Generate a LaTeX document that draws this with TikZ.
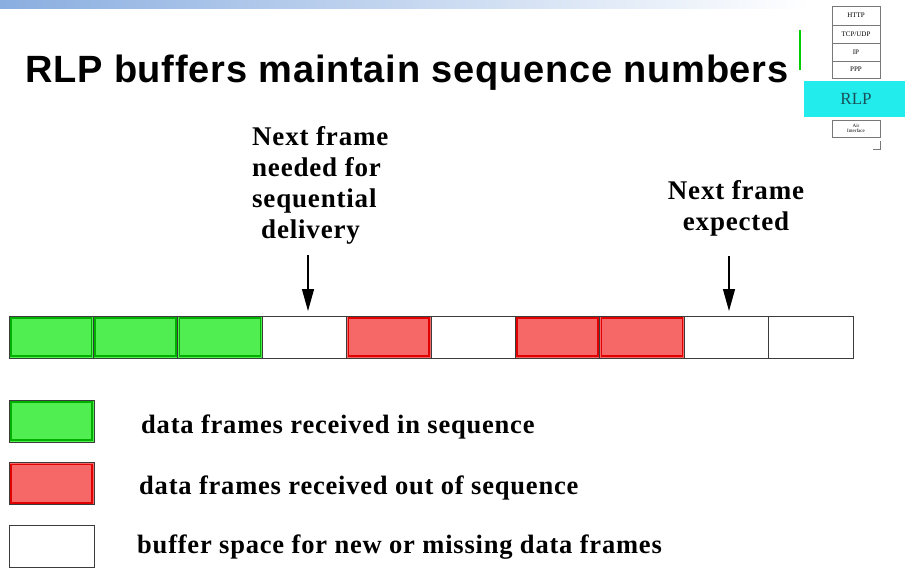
\documentclass[tikz,border=0pt]{standalone}
\usepackage{fontspec}
\setmainfont{Liberation Serif}
\newfontfamily\titlefont[LetterSpace=2]{Liberation Sans}
\newfontfamily\labfont[LetterSpace=3]{Liberation Serif}
\usetikzlibrary{arrows.meta}

\definecolor{barblue}{RGB}{138,174,224}
\definecolor{okfill}{RGB}{80,238,80}
\definecolor{okedge}{RGB}{0,175,0}
\definecolor{oofill}{RGB}{246,104,104}
\definecolor{ooedge}{RGB}{225,0,0}
\definecolor{cellline}{RGB}{60,60,60}
\definecolor{rlpcyan}{RGB}{34,236,236}
\definecolor{rlptext}{RGB}{25,80,90}
\definecolor{stackline}{RGB}{120,120,120}

\tikzset{
  cell/.style={draw=cellline, line width=1pt, minimum width=84.4pt,
    minimum height=42pt, inner sep=0pt, outer sep=0pt, fill=white},
  okcell/.style={cell, fill=okfill, path picture={
    \draw[okedge, line width=1.6pt]
      ([shift={(1.8pt,-1.8pt)}]path picture bounding box.north west) rectangle
      ([shift={(-1.8pt,1.8pt)}]path picture bounding box.south east);}},
  oocell/.style={cell, fill=oofill, path picture={
    \draw[ooedge, line width=1.6pt]
      ([shift={(1.8pt,-1.8pt)}]path picture bounding box.north west) rectangle
      ([shift={(-1.8pt,1.8pt)}]path picture bounding box.south east);}},
  freecell/.style={cell},
  pointer/.style={line width=1.2pt,
    -{Triangle[length=22pt,width=12pt]}, shorten >=5pt},
  legtext/.style={anchor=base west, inner sep=0pt,
    font=\labfont\bfseries\fontsize{26.5}{30}\selectfont},
  calltext/.style={anchor=north west, align=left, inner sep=0pt,
    font=\labfont\bfseries\fontsize{27}{31}\selectfont},
  layer/.style={draw=stackline, line width=0.6pt, minimum width=48pt,
    inner sep=0pt, font=\fontsize{7}{7}\selectfont},
}

\begin{document}
\begin{tikzpicture}[x=1pt,y=-1pt]
\useasboundingbox (0,0) rectangle (905,568);

% header bar
\shade[left color=barblue, right color=white] (0,0) rectangle (810,8);

% title
\node[anchor=base west, inner sep=0pt,
  font=\titlefont\bfseries\fontsize{38}{42}\selectfont] (title) at (25,82)
  {RLP buffers maintain sequence numbers};

% protocol stack
\draw[green!80!black, line width=1.5pt] (800,30) -- (800,70);
\node[layer, minimum height=19pt] (http) at (856,15.5) {HTTP};
\node[layer, minimum height=18pt] (tcp) at (856,34) {TCP/UDP};
\node[layer, minimum height=18pt] (ip) at (856,52) {IP};
\node[layer, minimum height=17pt] (ppp) at (856,69.5) {PPP};
\fill[rlpcyan] (804,81) rectangle (905,117);
\node[text=rlptext, inner sep=0pt, font=\fontsize{17}{17}\selectfont] (rlp)
  at (856,99) {RLP};
\node[layer, minimum height=17pt, align=center,
  font=\fontsize{5}{5.5}\selectfont] (air) at (856,128.5) {Air\\Interface};
\draw[stackline, line width=0.8pt] (873,149) -- (880,149) -- (880,141);

% callouts
\node[calltext] (need) at (252,126)
  {Next frame\\needed for\\sequential\\\hspace*{9pt}delivery};
\node[calltext, anchor=north, align=center] (expect) at (736,180)
  {Next frame\\expected};

% buffer
\foreach \i/\s in {1/okcell,2/okcell,3/okcell,4/freecell,5/oocell,
                   6/freecell,7/oocell,8/oocell,9/freecell,10/freecell}
  \node[\s] (c\i) at ({9+84.4*(\i-0.5)},337) {};

% pointers
\coordinate (p1) at (308,255);
\coordinate (p2) at (729,256);
\draw[pointer] (p1) -- (p1 |- c4.north);
\draw[pointer] (p2) -- (p2 |- c9.north);

% legend
\node[okcell, minimum width=85pt] (lgok) at (51.5,421) {};
\node[oocell, minimum width=85pt] (lgoo) at (51.5,483.5) {};
\node[freecell, minimum width=85pt] (lgfree) at (51.5,546) {};
\node[legtext] (tok) at (141,433) {data frames received in sequence};
\node[legtext] (too) at (139,494) {data frames received out of sequence};
\node[legtext] (tfree) at (137,553) {buffer space for new or missing data frames};
\end{tikzpicture}
\end{document}
